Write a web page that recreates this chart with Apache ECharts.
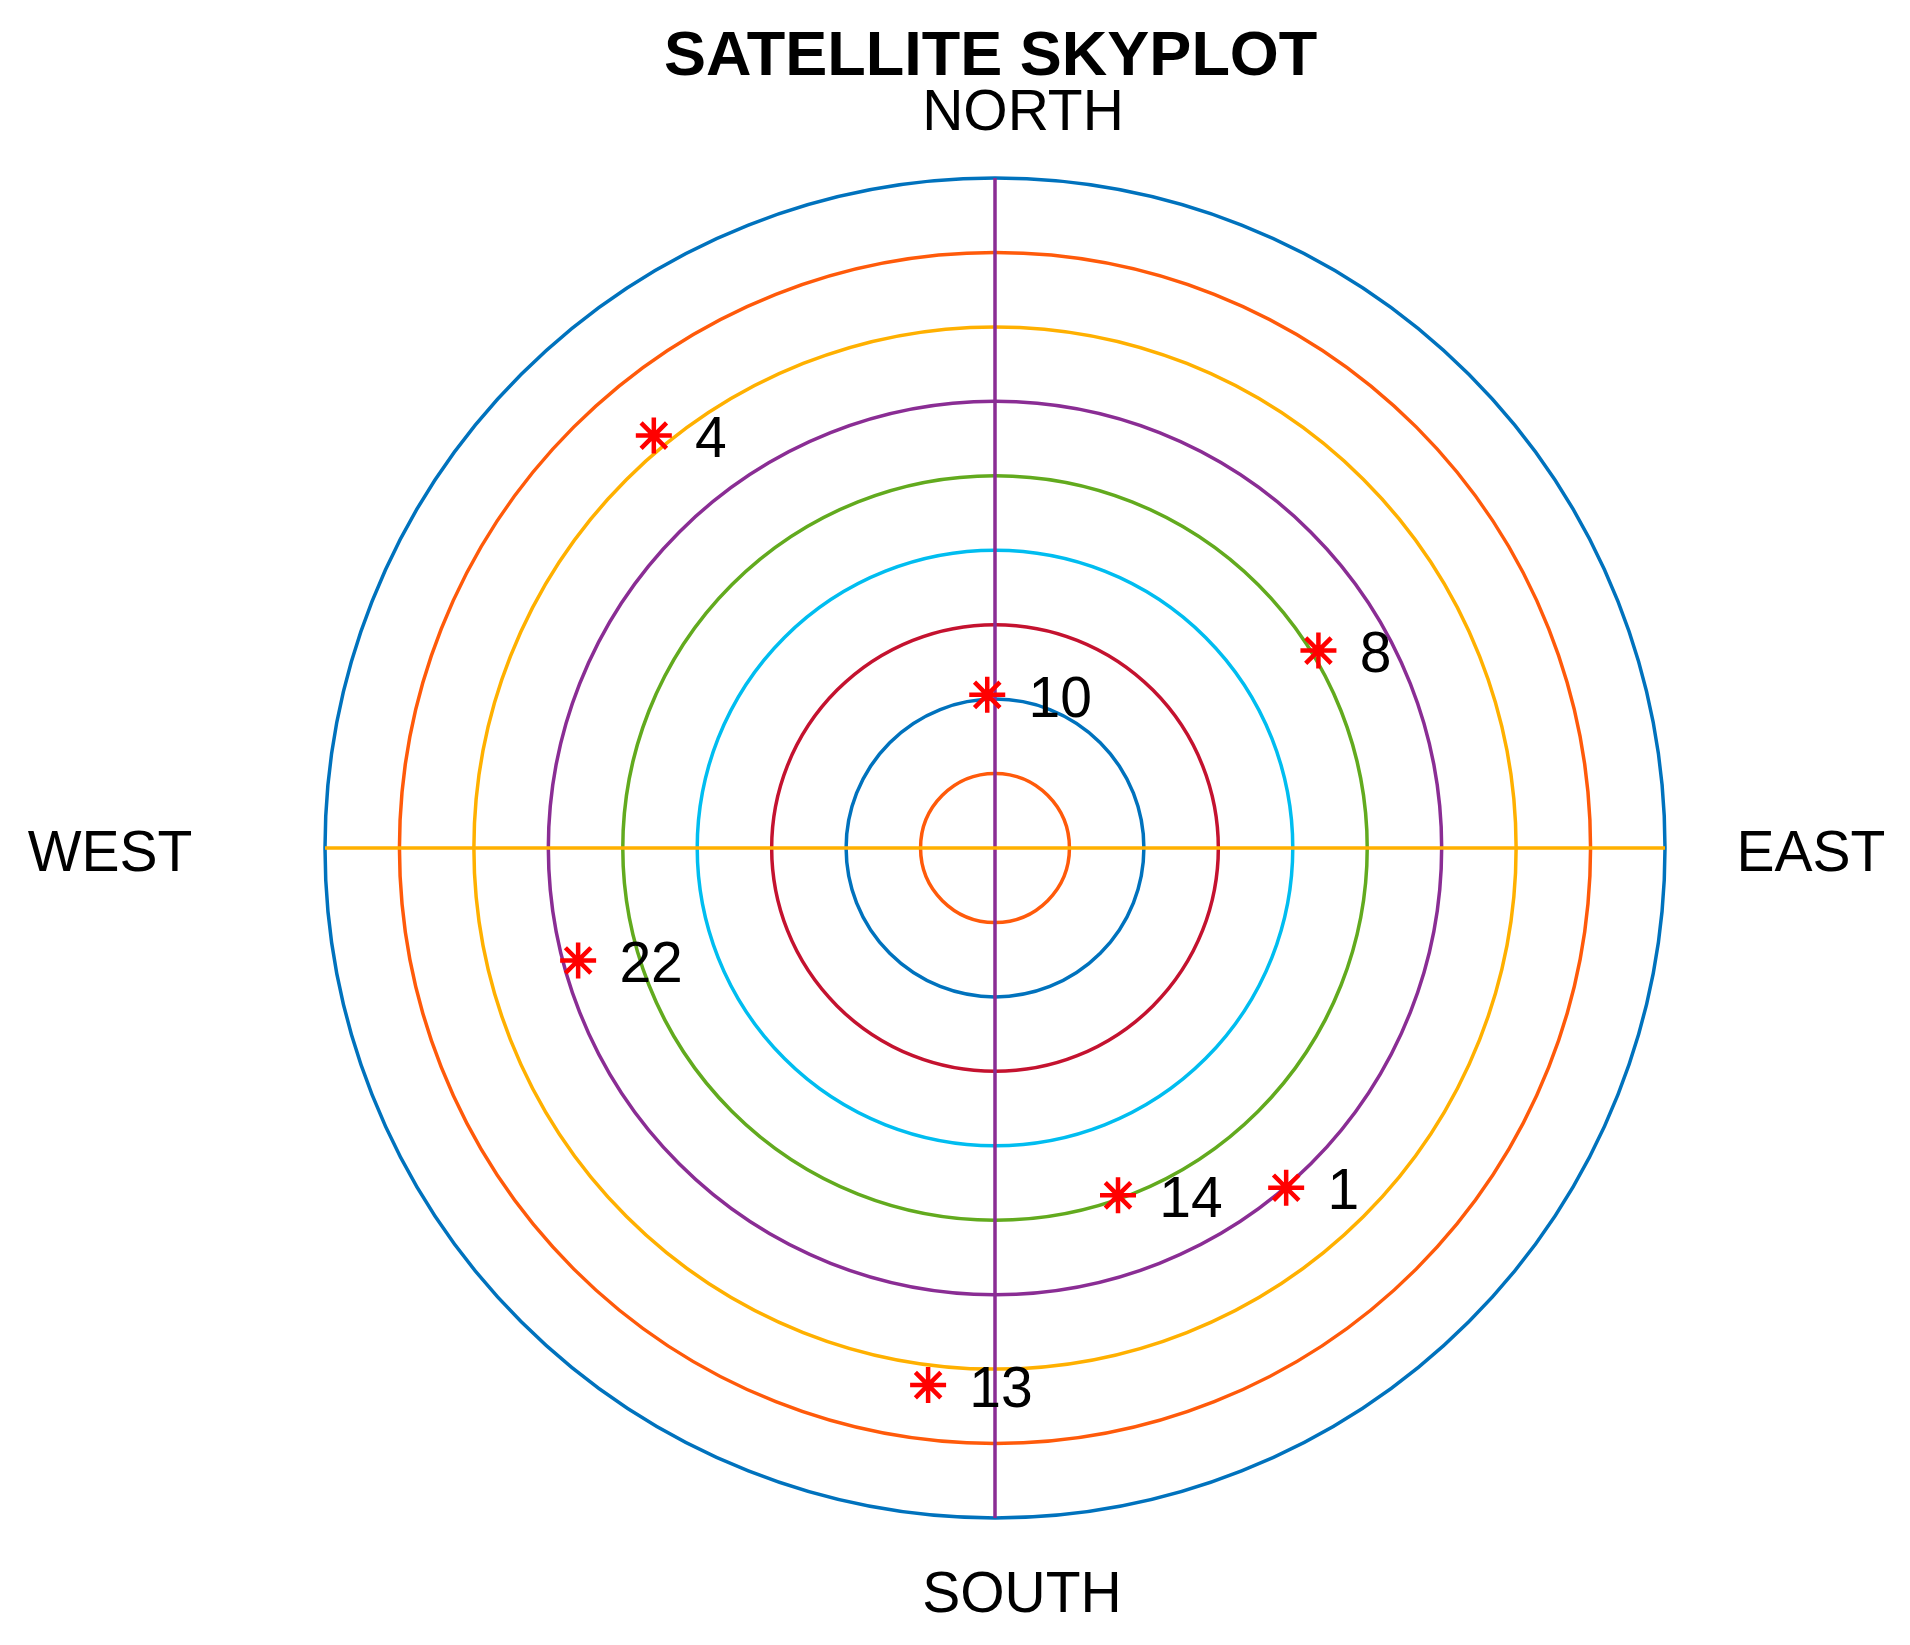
<!DOCTYPE html>
<html>
<head>
<meta charset="utf-8">
<title>Satellite Skyplot</title>
<script src="https://cdn.jsdelivr.net/npm/echarts@6/dist/echarts.min.js"></script>
<style>
  html, body { margin: 0; padding: 0; background: #ffffff; }
  #main { width: 1910px; height: 1645px; }
</style>
</head>
<body>
<div id="main"></div>
<script>
// satellite ids, zenith distance (deg, 0 = straight up) and azimuth (deg from north, clockwise)
var satIds = ['1', '4', '8', '10', '13', '14', '22'];
var satZenith = [60.1, 71.9, 50.9, 20.6, 72.7, 49.5, 58.0];
var satAzimuth = [139.4, 320.4, 58.6, 357.1, 187.1, 160.5, 254.9];

// compass labels
var dirNames = ['NORTH', 'EAST', 'SOUTH', 'WEST'];

// ring colours, from the centre point (r=0) outwards
var ringColors = ['#ffffff', '#FF5A0A', '#0072BD', '#C4122F', '#00BDF0',
  '#62AA1E', '#8A2D94', '#FFB000', '#FF5A0A', '#0072BD'];
// north/south line, east/west line
var crossColors = ['#8A2D94', '#FFB000'];

var chart = echarts.init(document.getElementById('main'), null, { renderer: 'canvas' });

var seriesData = [];
for (var i = 0; i < satIds.length; i++) {
  seriesData.push({ name: satIds[i], value: [satZenith[i], satAzimuth[i]] });
}

var FONT = '"Liberation Sans", Arial, sans-serif';
var cx = 995, cy = 848;

function dirText(txt, x, y) {
  return {
    type: 'text',
    style: {
      text: txt, x: x, y: y,
      textAlign: 'center', textVerticalAlign: 'middle',
      font: '57px ' + FONT, fill: '#000'
    }
  };
}

var option = {
  backgroundColor: '#ffffff',
  animation: false,
  title: {
    text: 'SATELLITE SKYPLOT',
    left: 664,
    top: 26,
    padding: 0,
    textStyle: {
      fontFamily: FONT,
      fontWeight: 'bold',
      fontSize: 63,
      lineHeight: 63,
      color: '#000000'
    }
  },
  polar: {
    center: [cx, cy],
    radius: 670
  },
  angleAxis: {
    type: 'value',
    min: 0,
    max: 360,
    interval: 90,
    startAngle: 90,
    clockwise: true,
    axisLine: { show: false },
    axisTick: { show: false },
    axisLabel: { show: false },
    splitLine: {
      show: true,
      lineStyle: { color: crossColors, width: 3.5, opacity: 1 }
    }
  },
  radiusAxis: {
    type: 'value',
    min: 0,
    max: 90,
    interval: 10,
    axisLine: { show: false },
    axisTick: { show: false },
    axisLabel: { show: false },
    splitLine: {
      show: true,
      lineStyle: { color: ringColors, width: 3.5, opacity: 1 }
    }
  },
  graphic: [
    dirText(dirNames[0], 1023, 114),
    dirText(dirNames[1], 1811, 855),
    dirText(dirNames[2], 1022, 1596),
    dirText(dirNames[3], 110, 855)
  ],
  series: [{
    type: 'scatter',
    coordinateSystem: 'polar',
    symbol: 'path://M0,-10L0,10M-10,0L10,0M-7.07,-7.07L7.07,7.07M-7.07,7.07L7.07,-7.07',
    symbolSize: 36,
    itemStyle: {
      color: '#FF0000',
      borderColor: '#FF0000',
      borderWidth: 4.5,
      opacity: 1
    },
    label: {
      show: true,
      position: 'right',
      distance: 21,
      offset: [0, 6],
      formatter: '{b}',
      fontFamily: FONT,
      fontSize: 57,
      color: '#000000',
      opacity: 1
    },
    data: seriesData
  }]
};

chart.setOption(option);
</script>
</body>
</html>
